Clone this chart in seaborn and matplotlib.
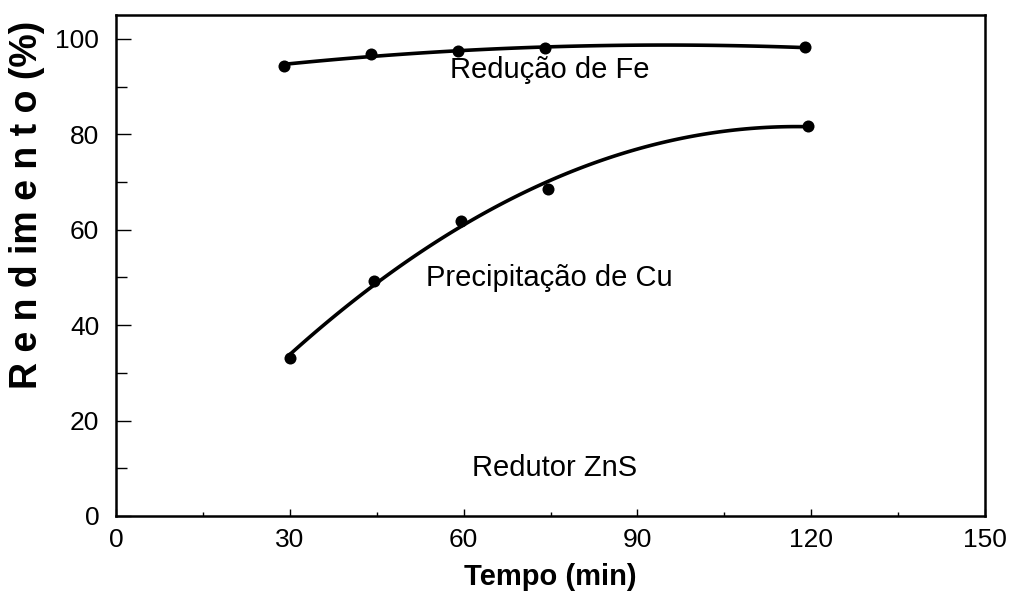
import matplotlib
matplotlib.use("Agg")
import matplotlib.pyplot as plt
from matplotlib.ticker import MultipleLocator
import numpy as np
import pandas as pd
import seaborn as sns

# Yield (%) versus time (min), ZnS as reducing agent
tempo_fe = [29, 44, 59, 74, 119]
rend_fe = [94.4, 96.8, 97.4, 98.1, 98.2]

tempo_cu = [30, 44.5, 59.5, 74.5, 119.5]
rend_cu = [33.1, 49.2, 61.8, 68.6, 81.8]

df_fe = pd.DataFrame({"tempo": tempo_fe, "rend": rend_fe})
df_cu = pd.DataFrame({"tempo": tempo_cu, "rend": rend_cu})

sns.set_style("ticks")
plt.rcParams["font.family"] = ["Liberation Sans", "DejaVu Sans"]
plt.rcParams["text.color"] = "black"
plt.rcParams["axes.labelcolor"] = "black"

fig = plt.figure(figsize=(10.13, 5.97), dpi=100)
ax = fig.add_axes([0.1145, 0.1357, 0.9724 - 0.1145, 0.9749 - 0.1357])

for df in (df_fe, df_cu):
    sns.regplot(data=df, x="tempo", y="rend", order=2, ci=None, ax=ax,
                color="black",
                scatter_kws={"s": 75, "alpha": 1.0, "edgecolor": "black",
                             "linewidths": 0, "zorder": 3},
                line_kws={"linewidth": 2.6, "solid_capstyle": "round"})

ax.set_xlim(0, 150)
ax.set_ylim(0, 105)
ax.xaxis.set_major_locator(MultipleLocator(30))
ax.xaxis.set_minor_locator(MultipleLocator(15))
ax.yaxis.set_major_locator(MultipleLocator(20))
ax.yaxis.set_minor_locator(MultipleLocator(10))

ax.tick_params(axis="both", which="both", direction="in", top=False, right=False,
               colors="black", labelcolor="black", labelsize=19, width=1.0)
ax.tick_params(axis="y", which="major", length=11, pad=12)
ax.tick_params(axis="y", which="minor", length=8)
ax.tick_params(axis="x", which="major", length=5, pad=9)
ax.tick_params(axis="x", which="minor", length=3)

for sp in ax.spines.values():
    sp.set_visible(True)
    sp.set_color("black")
    sp.set_linewidth(1.8)

ax.set_xlabel("Tempo (min)", fontsize=21, fontweight="bold")
ax.xaxis.set_label_coords(0.5, (516 - 577) / 501)
ax.xaxis.label.set_verticalalignment("center")
ax.set_ylabel("")
fig.text(0.027, (597 - 389) / 597, "R e n d im e n t o (%)", rotation=90,
         ha="center", va="bottom", fontsize=27, fontweight="heavy")

ax.text(57.7, 93.5, "Redução de Fe", fontsize=21, va="center", ha="left")
ax.text(53.5, 49.9, "Precipitação de Cu", fontsize=21, va="center", ha="left")
ax.text(61.5, 10.1, "Redutor ZnS", fontsize=21, va="center", ha="left")

fig.savefig("out.png", dpi=100)
